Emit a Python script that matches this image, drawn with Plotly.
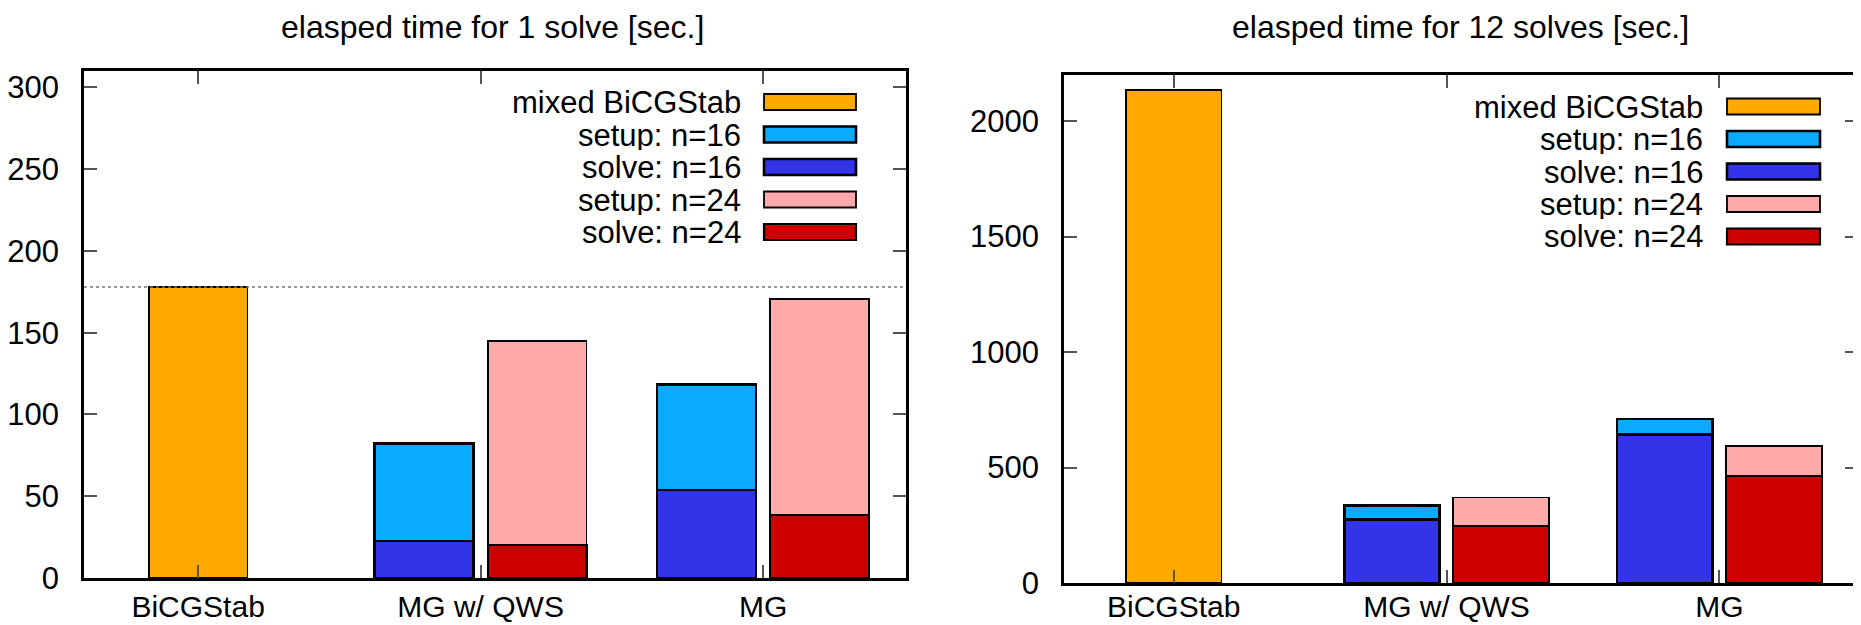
import plotly.graph_objects as go

# ---------------- data ----------------
categories = ["BiCGStab", "MG w/ QWS", "MG"]
legend_labels = ["mixed BiCGStab", "setup: n=16", "solve: n=16", "setup: n=24", "solve: n=24"]

# 1 solve [sec.]
one_bicg = [178.0]
one_solve16 = [22.7, 53.8]
one_setup16 = [59.5, 64.7]
one_solve24 = [20.0, 38.3]
one_setup24 = [125.0, 132.4]

# 12 solves [sec.]
twelve_bicg = [2135.0]
twelve_solve16 = [275.0, 644.0]
twelve_setup16 = [60.0, 67.0]
twelve_solve24 = [246.0, 463.0]
twelve_setup24 = [124.0, 132.0]

titles = ["elasped time for 1 solve [sec.]", "elasped time for 12 solves [sec.]"]
y_ticks_left = [0, 50, 100, 150, 200, 250, 300]
y_ticks_right = [0, 500, 1000, 1500, 2000]

# ---------------- style ----------------
PAGE_OFF = 8            # default body margin of the html page
W, H = 1861 - PAGE_OFF, 625 - PAGE_OFF
FONT = "Liberation Sans"
FS = 32
FS_LEG = 31
FS_TICK = 31
FS_XTICK = 30
C_ORANGE = "#ffa800"
C_LBLUE = "#0aaaff"
C_BLUE = "#3333ea"
C_PINK = "#ffaaaa"
C_RED = "#cc0000"
colors = [C_ORANGE, C_LBLUE, C_BLUE, C_PINK, C_RED]
border_w = [1.8, 2.6, 2.6, 1.8, 2.2]
BW = 0.35
OFF = 0.2

def px_x(p):
    return (p - PAGE_OFF) / W

def px_y(p):
    return 1 - (p - PAGE_OFF) / H

fig = go.Figure()

def add_panel(xa, ya, bicg, solve16, setup16, solve24, setup24):
    grp = [1, 2]
    x16 = [g - OFF for g in grp]
    x24 = [g + OFF for g in grp]
    common = dict(xaxis=xa, yaxis=ya, width=BW, showlegend=False)
    fig.add_trace(go.Bar(x=[0], y=bicg, name=legend_labels[0],
                         marker=dict(color=C_ORANGE, line=dict(color="black", width=border_w[0])), **common))
    fig.add_trace(go.Bar(x=x16, y=solve16, name=legend_labels[2],
                         marker=dict(color=C_BLUE, line=dict(color="black", width=border_w[2])), **common))
    fig.add_trace(go.Bar(x=x16, y=setup16, name=legend_labels[1],
                         marker=dict(color=C_LBLUE, line=dict(color="black", width=border_w[1])), **common))
    fig.add_trace(go.Bar(x=x24, y=solve24, name=legend_labels[4],
                         marker=dict(color=C_RED, line=dict(color="black", width=border_w[4])), **common))
    fig.add_trace(go.Bar(x=x24, y=setup24, name=legend_labels[3],
                         marker=dict(color=C_PINK, line=dict(color="black", width=border_w[3])), **common))

add_panel("x", "y", one_bicg, one_solve16, one_setup16, one_solve24, one_setup24)
add_panel("x2", "y2", twelve_bicg, twelve_solve16, twelve_setup16, twelve_solve24, twelve_setup24)

axis_common = dict(
    showline=True, linecolor="black", linewidth=2.6, mirror="ticks",
    ticks="inside", ticklen=13, tickwidth=1.5, tickcolor="#555555",
    showgrid=False, zeroline=False, automargin=False,
)
ytickfont = dict(family=FONT, size=FS_TICK, color="black")
xtickfont = dict(family=FONT, size=FS_XTICK, color="black")

left_dom = [px_x(84), px_x(906)]
right_dom = [px_x(1064), px_x(1858)]

fig.update_layout(
    width=W, height=H,
    margin=dict(l=0, r=0, t=0, b=0),
    paper_bgcolor="white", plot_bgcolor="white",
    barmode="stack",
    font=dict(family=FONT, size=FS, color="black"),
    xaxis=dict(domain=left_dom, anchor="y", range=[-0.404, 2.506],
               tickmode="array", tickvals=[0, 1, 2], ticktext=categories,
               ticklabelstandoff=0, tickfont=xtickfont, **axis_common),
    yaxis=dict(domain=[px_y(578), px_y(71)], anchor="x", range=[0, 310],
               tickmode="array", tickvals=y_ticks_left, ticklabelstandoff=16,
               tickfont=ytickfont, **axis_common),
    xaxis2=dict(domain=right_dom, anchor="y2", range=[-0.402, 2.508],
                tickmode="array", tickvals=[0, 1, 2], ticktext=categories,
                ticklabelstandoff=-5, tickfont=xtickfont, **axis_common),
    yaxis2=dict(domain=[px_y(583), px_y(75)], anchor="x2", range=[0, 2200],
                tickmode="array", tickvals=y_ticks_right, ticklabelstandoff=16,
                tickfont=ytickfont, **axis_common),
)

# dotted reference line at BiCGStab level (left panel)
fig.add_shape(type="line", xref="x domain", yref="y", x0=0, x1=1,
              y0=one_bicg[0], y1=one_bicg[0],
              line=dict(color="#777777", width=1.5, dash="dot"), layer="above")

# titles
fig.add_annotation(text=titles[0], xref="paper", yref="paper", x=px_x(492), y=px_y(27),
                   showarrow=False, xanchor="center", yanchor="middle",
                   font=dict(family=FONT, size=FS, color="black"))
fig.add_annotation(text=titles[1], xref="paper", yref="paper", x=px_x(1460), y=px_y(27),
                   showarrow=False, xanchor="center", yanchor="middle",
                   font=dict(family=FONT, size=FS, color="black"))

# legends (text right-aligned, swatch on the right, gnuplot style)
def add_legend(text_right, sw_x0, sw_x1, rows):
    for i, lab in enumerate(legend_labels):
        yc = rows[i]
        fig.add_annotation(text=lab, xref="paper", yref="paper",
                           x=px_x(text_right), y=px_y(yc), showarrow=False,
                           xanchor="right", yanchor="middle", height=30,
                           font=dict(family=FONT, size=FS_LEG, color="black"))
        fig.add_shape(type="rect", xref="paper", yref="paper",
                      x0=px_x(sw_x0), x1=px_x(sw_x1), y0=px_y(yc + 8), y1=px_y(yc - 8),
                      fillcolor=colors[i], line=dict(color="black", width=border_w[i]))

add_legend(743, 764, 856, [102, 134.5, 167, 199.5, 232])
add_legend(1705, 1727, 1820, [106.5, 139, 171.5, 204, 236.5])

fig.write_html("out.html")
